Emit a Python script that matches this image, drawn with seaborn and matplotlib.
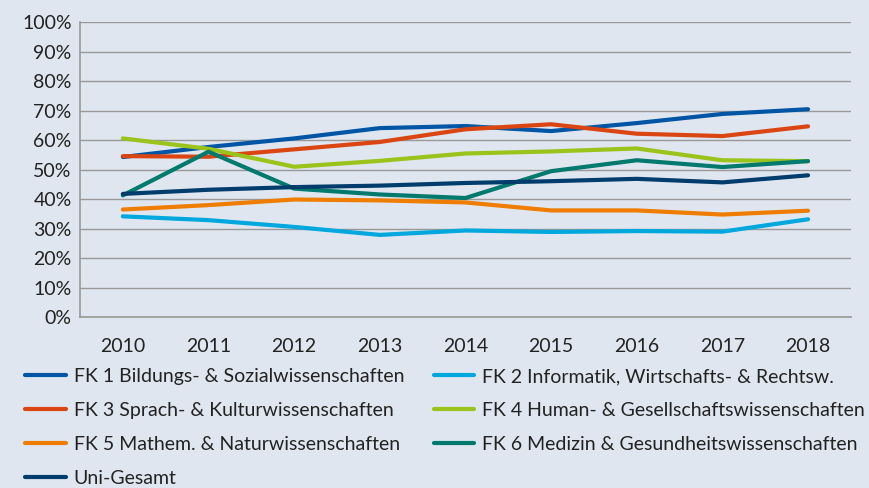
import pandas as pd
import numpy as np
import matplotlib.pyplot as plt
import seaborn as sns
from matplotlib.ticker import FixedLocator, PercentFormatter

# Werte (Anteil in %)
jahre = ['2010', '2011', '2012', '2013', '2014', '2015', '2016', '2017', '2018']

fk1 = [54.3, 57.7, 60.6, 64.1, 64.8, 63.1, 65.8, 68.9, 70.5]
fk2 = [34.2, 32.9, 30.6, 27.9, 29.4, 28.9, 29.2, 29.0, 33.2]
fk3 = [54.6, 54.4, 56.9, 59.4, 63.7, 65.4, 62.2, 61.4, 64.7]
fk4 = [60.6, 57.1, 51.0, 53.0, 55.5, 56.2, 57.2, 53.2, 52.9]
fk5 = [36.5, 38.0, 39.9, 39.6, 38.9, 36.2, 36.2, 34.8, 36.1]
fk6 = [41.3, 56.1, 43.6, 41.6, 40.4, 49.5, 53.2, 50.9, 52.9]
gesamt = [41.8, 43.2, 44.1, 44.6, 45.5, 46.1, 46.9, 45.7, 48.1]

namen = ['FK 1 Bildungs- & Sozialwissenschaften',
         'FK 2 Informatik, Wirtschafts- & Rechtsw.',
         'FK 3 Sprach- & Kulturwissenschaften',
         'FK 4 Human- & Gesellschaftswissenschaften',
         'FK 5 Mathem. & Naturwissenschaften',
         'FK 6 Medizin & Gesundheitswissenschaften',
         'Uni-Gesamt']
farben = ['#0056A4', '#00A8DE', '#DA4512', '#9AC31C', '#EF7D00', '#007A6C', '#003C6C']

# Long-Format fuer seaborn
serien = [fk1, fk2, fk3, fk4, fk5, fk6, gesamt]
df = pd.DataFrame({
    'jahr': np.tile(np.arange(len(jahre)), len(namen)),
    'anteil': np.concatenate(serien) / 100,
    'gruppe': np.repeat(namen, len(jahre)),
})

bg = '#DFE6F0'
sns.set_style('white')
plt.rcParams['font.family'] = ['Lato', 'DejaVu Sans']

fig = plt.figure(figsize=(8.7, 4.88), dpi=100, facecolor=bg)
ax = fig.add_axes([0.092, 0.350, 0.886, 0.6045], facecolor=bg)

sns.lineplot(data=df, x='jahr', y='anteil', hue='gruppe', hue_order=namen,
             palette=farben, linewidth=3, ax=ax, legend=False)

ax.set_xlim(-0.5, len(jahre) - 0.5)
ax.set_ylim(0, 1)
ax.set_yticks(np.arange(0, 1.01, 0.1))
ax.yaxis.set_major_formatter(PercentFormatter(1.0, decimals=0))
ax.set_xticks(np.arange(len(jahre)))
ax.set_xticklabels(jahre)
ax.xaxis.set_minor_locator(FixedLocator(np.arange(-0.5, len(jahre), 1)))
ax.tick_params(axis='x', which='major', length=0, pad=15, labelsize=14, colors='#222222')
ax.tick_params(axis='x', which='minor', length=5, width=1, color='#999999', direction='out')
ax.tick_params(axis='y', length=4, width=1, color='#999999', pad=2, labelsize=14, labelcolor='#222222')
ax.set_xlabel('')
ax.set_ylabel('')
ax.grid(axis='y', color='#999999', linewidth=1)
ax.set_axisbelow(True)
for s in ['top', 'right']:
    ax.spines[s].set_visible(False)
for s in ['left', 'bottom']:
    ax.spines[s].set_color('#999999')
    ax.spines[s].set_linewidth(1.2)

# Legende zeilenweise wie im Original (matplotlib fuellt spaltenweise)
reihenfolge = [0, 2, 4, 6, 1, 3, 5]
handles = [plt.Line2D([], [], color=farben[i], linewidth=3) for i in reihenfolge]
labels = [namen[i] for i in reihenfolge]
fig.legend(handles, labels, loc='upper left', bbox_to_anchor=(0.029, 0.246),
           ncol=2, frameon=False, fontsize=14, handlelength=2.1,
           handletextpad=0.4, columnspacing=1.5, labelspacing=0.88,
           borderaxespad=0, borderpad=0, labelcolor='#222222')

plt.savefig('out.png', dpi=100, facecolor=bg)
